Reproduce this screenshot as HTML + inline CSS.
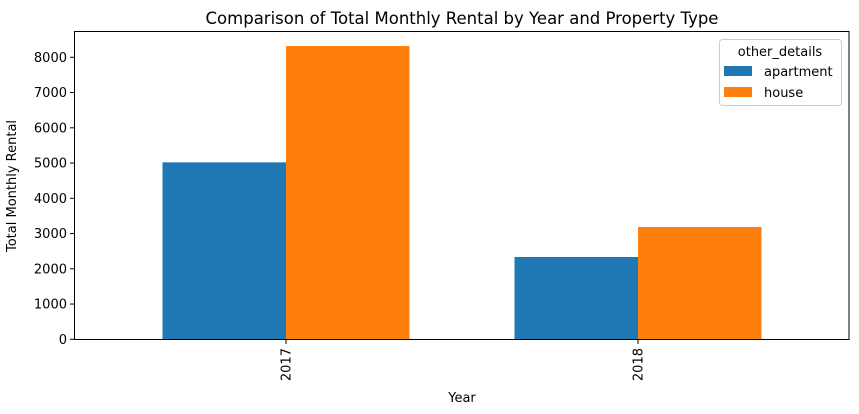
<!DOCTYPE html>
<html><head><meta charset="utf-8"><style>
body{margin:0;background:#fff;}
svg{display:block;font-family:"DejaVu Sans","Liberation Sans",sans-serif;}
</style></head><body>
<svg id="chart" width="859" height="414">
<text x="462" y="24" font-size="16.5" text-anchor="middle" fill="#000">Comparison of Total Monthly Rental by Year and Property Type</text>
<g id="bars"></g>
<g id="yaxis"></g>
<g id="xaxis"></g>
<rect x="74.5" y="31.5" width="774.5" height="308" fill="none" stroke="#000" stroke-width="1"/>
<text x="16" y="186" font-size="13" text-anchor="middle" transform="rotate(-90 16 186)">Total Monthly Rental</text>
<text x="462" y="402" font-size="13" text-anchor="middle">Year</text>
<g>
<rect x="719.5" y="39.5" width="122" height="66" rx="3" fill="#fff" fill-opacity="0.8" stroke="#ccc"/>
<text x="780" y="56" font-size="13" text-anchor="middle">other_details</text>
<g><rect x="724" y="66" width="28" height="10" fill="#1f77b4"/><text x="764" y="76" font-size="13">apartment</text></g>
<g><rect x="724" y="87" width="28" height="10" fill="#ff7f0e"/><text x="764" y="97" font-size="13">house</text></g>
</g>
</svg>
<script>
const categories=["2017","2018"];
const apartment=[5020,2335];
const house=[8320,3186];
const yTicks=[0,1000,2000,3000,4000,5000,6000,7000,8000];
const NS="http://www.w3.org/2000/svg";
function y(v){return 339.3-v*(339.3-57.3)/8000;}
function x(i){return 286+i*352;}
const bw=123.5;
const bars=document.getElementById('bars');
[[apartment,"#1f77b4","apartment",-1],[house,"#ff7f0e","house",0]].forEach(([vals,col,nm,off])=>{
 vals.forEach((v,i)=>{
  const r=document.createElementNS(NS,'rect');
  r.setAttribute('x',x(i)+off*bw);r.setAttribute('y',y(v));
  r.setAttribute('width',bw);r.setAttribute('height',y(0)-y(v));r.setAttribute('fill',col);
  
  
  bars.appendChild(r);
 });
});
const ya=document.getElementById('yaxis');
yTicks.forEach(t=>{
 const l=document.createElementNS(NS,'line');
 l.setAttribute('x1',70);l.setAttribute('x2',74.5);l.setAttribute('y1',y(t));l.setAttribute('y2',y(t));l.setAttribute('stroke','#000');
 
 
 ya.appendChild(l);
 const tx=document.createElementNS(NS,'text');
 tx.setAttribute('x',67);tx.setAttribute('y',y(t)+4.5);tx.setAttribute('font-size','13');tx.setAttribute('text-anchor','end');
 tx.textContent=t;
 
 
 ya.appendChild(tx);
});
const xa=document.getElementById('xaxis');
categories.forEach((c,i)=>{
 const l=document.createElementNS(NS,'line');
 l.setAttribute('x1',x(i));l.setAttribute('x2',x(i));l.setAttribute('y1',339.5);l.setAttribute('y2',344);l.setAttribute('stroke','#000');
 
 
 xa.appendChild(l);
 const tx=document.createElementNS(NS,'text');
 const px=x(i)+4.5, py=348;
 tx.setAttribute('x',px);tx.setAttribute('y',py);tx.setAttribute('font-size','13');tx.setAttribute('text-anchor','end');
 tx.setAttribute('transform','rotate(-90 '+px+' '+py+')');
 tx.textContent=c;
 
 
 xa.appendChild(tx);
});
</script>
</body></html>
